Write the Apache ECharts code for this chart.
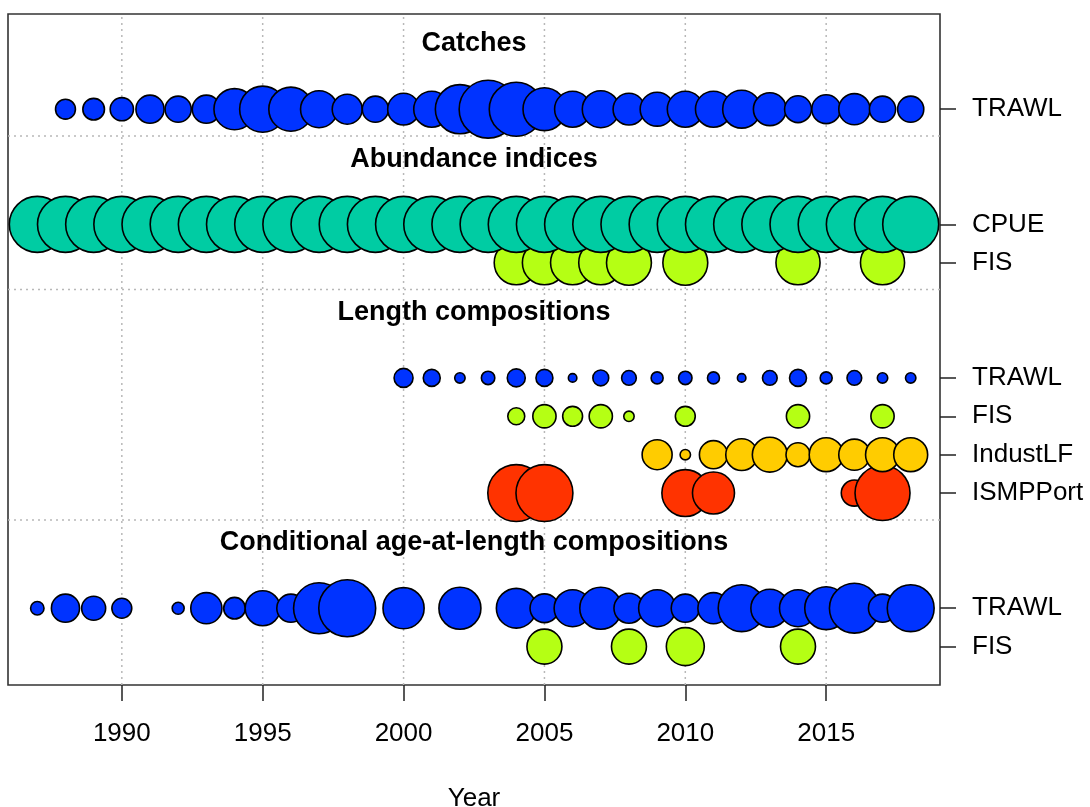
<!DOCTYPE html>
<html>
<head>
<meta charset="utf-8">
<script src="https://cdn.jsdelivr.net/npm/echarts@6/dist/echarts.min.js"></script>
<style>
html,body{margin:0;padding:0;background:#fff;}
#chart{width:1090px;height:807px;}
</style>
</head>
<body>
<div id="chart"></div>
<script>
// ---------- data (relative magnitudes; bubble area proportional to value) ----------
const catchYears = [1988,1989,1990,1991,1992,1993,1994,1995,1996,1997,1998,1999,2000,2001,2002,2003,2004,2005,2006,2007,2008,2009,2010,2011,2012,2013,2014,2015,2016,2017,2018];
const catchTRAWL = [0.11,0.13,0.15,0.22,0.19,0.22,0.47,0.59,0.54,0.38,0.25,0.19,0.28,0.36,0.67,0.93,0.81,0.51,0.36,0.38,0.28,0.32,0.36,0.36,0.40,0.30,0.20,0.23,0.27,0.19,0.19];

const cpueYears = [1987,1988,1989,1990,1991,1992,1993,1994,1995,1996,1997,1998,1999,2000,2001,2002,2003,2004,2005,2006,2007,2008,2009,2010,2011,2012,2013,2014,2015,2016,2017,2018];
const cpueValues = [0.87,0.87,0.87,0.87,0.87,0.87,0.87,0.87,0.87,0.87,0.87,0.87,0.87,0.87,0.87,0.87,0.87,0.87,0.87,0.87,0.87,0.87,0.87,0.87,0.87,0.87,0.87,0.87,0.87,0.87,0.87,0.87];

const fisIndexYears = [2004,2005,2006,2007,2008,2010,2014,2017];
const fisIndexValues = [0.54,0.54,0.54,0.54,0.56,0.56,0.54,0.54];

const lenTrawlYears = [2000,2001,2002,2003,2004,2005,2006,2007,2008,2009,2010,2011,2012,2013,2014,2015,2016,2017,2018];
const lenTrawlValues = [0.10,0.08,0.03,0.05,0.09,0.08,0.02,0.07,0.06,0.04,0.05,0.04,0.02,0.06,0.08,0.04,0.06,0.03,0.03];

const lenFisYears = [2004,2005,2006,2007,2008,2010,2014,2017];
const lenFisValues = [0.08,0.15,0.11,0.15,0.03,0.11,0.15,0.15];

const lenIndustYears = [2009,2010,2011,2012,2013,2014,2015,2016,2017,2018];
const lenIndustValues = [0.25,0.03,0.22,0.28,0.34,0.16,0.32,0.27,0.32,0.32];

const lenIsmpYears = [2004,2005,2010,2011,2016,2017];
const lenIsmpValues = [0.90,0.90,0.61,0.49,0.19,0.84];

const caalTrawlYears = [1987,1988,1989,1990,1992,1993,1994,1995,1996,1997,1998,2000,2002,2004,2005,2006,2007,2008,2009,2010,2011,2012,2013,2014,2015,2016,2017,2018];
const caalTrawlValues = [0.05,0.22,0.16,0.11,0.04,0.27,0.13,0.34,0.22,0.72,0.90,0.47,0.49,0.44,0.23,0.38,0.49,0.25,0.38,0.22,0.27,0.61,0.40,0.38,0.51,0.69,0.22,0.61];

const caalFisYears = [2005,2008,2010,2014];
const caalFisValues = [0.34,0.34,0.40,0.34];

const sectionTitles = ['Catches','Abundance indices','Length compositions','Conditional age-at-length compositions'];
const xTickLabels = [1990,1995,2000,2005,2010,2015];
const xAxisName = 'Year';

// ---------- styles ----------
const COLORS = {TRAWL:'#0033FF', CPUE:'#00CCA3', FIS:'#B5FF14', IndustLF:'#FFCC00', ISMPPort:'#FF3300'};
const MAX_DIAM = 60;
const FONT = "'Liberation Sans', Arial, sans-serif";
const GRID_LINE = {color: '#b8b8b8', type: [2, 4], width: 1.5};

// ---------- layout (built from the arrays) ----------
const sections = [
  {title: sectionTitles[0], rows: [{name:'TRAWL', years:catchYears, values:catchTRAWL}]},
  {title: sectionTitles[1], rows: [{name:'CPUE', years:cpueYears, values:cpueValues},
                                   {name:'FIS', years:fisIndexYears, values:fisIndexValues}]},
  {title: sectionTitles[2], rows: [{name:'TRAWL', years:lenTrawlYears, values:lenTrawlValues},
                                   {name:'FIS', years:lenFisYears, values:lenFisValues},
                                   {name:'IndustLF', years:lenIndustYears, values:lenIndustValues},
                                   {name:'ISMPPort', years:lenIsmpYears, values:lenIsmpValues}]},
  {title: sectionTitles[3], rows: [{name:'TRAWL', years:caalTrawlYears, values:caalTrawlValues},
                                   {name:'FIS', years:caalFisYears, values:caalFisValues}]}
];

let pos = 0;
const separators = [];
const titleItems = [];
const rowTicks = [];
const rowLabelMap = {};
const bubbleSeries = [];
const X_MIN = 1985.96, X_MAX = 2019.04;
const X_MID = (X_MIN + X_MAX) / 2;
for (let s = sections.length - 1; s >= 0; s--) {
  const sec = sections[s];
  for (let r = sec.rows.length - 1; r >= 0; r--) {
    const row = sec.rows[r];
    row.y = pos;
    rowTicks.push(pos);
    rowLabelMap[pos] = row.name;
    bubbleSeries.push({
      type: 'scatter',
      name: sec.title + ' ' + row.name,
      z: 3,
      silent: true,
      data: row.years.map((yr, i) => [yr, pos, row.values[i]]),
      symbolSize: d => MAX_DIAM * Math.sqrt(d[2]),
      itemStyle: {color: COLORS[row.name], borderColor: '#000', borderWidth: 1.6, opacity: 1}
    });
    pos += 1;
  }
  const topRow = pos - 1;
  titleItems.push([X_MID, topRow + 1.7, sec.title]);
  if (s > 0) separators.push(topRow + 2.3);
  pos += 2;
}
const Y_MIN = -1.0;
const Y_MAX = sections[0].rows[0].y + 2.48;

const gridSeries = xTickLabels.map(v => ({
  type: 'line', z: 1, silent: true, symbol: 'none', animation: false,
  data: [[v, Y_MIN], [v, Y_MAX]], lineStyle: GRID_LINE
})).concat(separators.map(v => ({
  type: 'line', z: 1, silent: true, symbol: 'none', animation: false,
  data: [[X_MIN, v], [X_MAX, v]], lineStyle: GRID_LINE
})));

const chart = echarts.init(document.getElementById('chart'), null, {renderer: 'canvas'});
const option = {
  animation: false,
  backgroundColor: '#fff',
  textStyle: {fontFamily: FONT},
  grid: {left: 8, right: 150, top: 14, bottom: 122, show: true, borderColor: '#333', borderWidth: 1.6,
         backgroundColor: 'transparent', outerBoundsMode: 'none', containLabel: false},
  xAxis: {
    type: 'value', min: X_MIN, max: X_MAX,
    axisLine: {show: false, onZero: false},
    splitLine: {show: false},
    axisTick: {show: true, customValues: xTickLabels, length: 16, lineStyle: {color: '#222', width: 1.5}},
    axisLabel: {customValues: xTickLabels, fontSize: 26, color: '#000', margin: 36, fontFamily: FONT,
      formatter: v => String(v)},
    name: xAxisName, nameLocation: 'middle', nameGap: 101,
    nameTextStyle: {fontSize: 26, color: '#000', fontFamily: FONT}
  },
  yAxis: {
    type: 'value', position: 'right', min: Y_MIN, max: Y_MAX,
    axisLine: {show: false, onZero: false},
    splitLine: {show: false},
    axisTick: {show: true, customValues: rowTicks, length: 16, lineStyle: {color: '#222', width: 1.5}},
    axisLabel: {customValues: rowTicks, fontSize: 26, color: '#000', margin: 32, fontFamily: FONT,
      formatter: v => rowLabelMap[Math.round(v)] || ''}
  },
  series: [
    ...gridSeries,
    ...bubbleSeries,
    {
      type: 'scatter', z: 5, silent: true,
      data: titleItems,
      symbolSize: 1,
      itemStyle: {color: 'transparent'},
      label: {show: true, position: 'inside', formatter: p => p.data[2], opacity: 1, textBorderWidth: 0,
        fontSize: 27, fontWeight: 'bold', color: '#000', fontFamily: FONT}
    }
  ]
};
chart.setOption(option);
</script>
</body>
</html>
